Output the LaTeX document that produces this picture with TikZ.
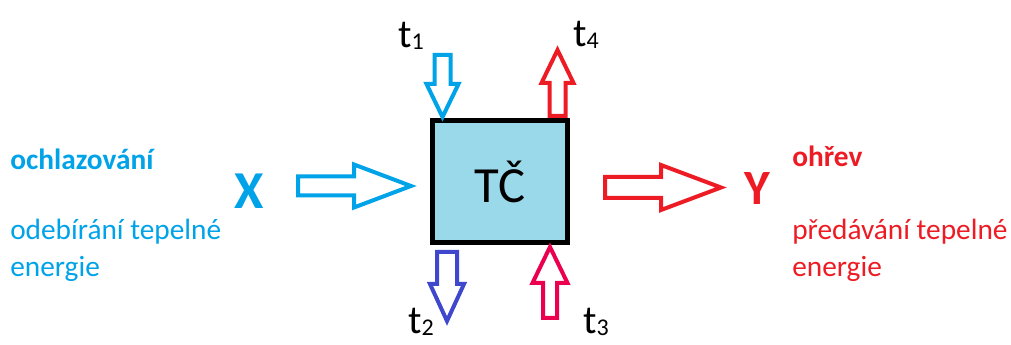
\documentclass[tikz,border=0pt]{standalone}
\usepackage{fontspec}
\setmainfont{Carlito}
\usetikzlibrary{positioning}
\definecolor{modra}{HTML}{00A2E8}
\definecolor{cervena}{HTML}{ED1C24}
\definecolor{indigo}{HTML}{3F48CC}
\definecolor{ruzova}{HTML}{EB0050}
\definecolor{svetla}{HTML}{99D9EA}
\newcommand{\tind}[1]{t{\fontsize{18}{18}\selectfont\raisebox{-1pt}{#1}}}
\tikzset{
  blok/.style={draw=black,fill=svetla,line width=3.75pt,minimum width=101pt,minimum height=91.5pt,inner sep=0pt,font=\fontsize{38}{40}\selectfont},
  sipka/.style={line width=3pt,line join=miter},
  pics/dutasipka/.style n args={4}{code={
    \draw[pic actions] (0,-#2) -- ({#1-#4},-#2) -- ({#1-#4},-#3) -- (#1,0)
      -- ({#1-#4},#3) -- ({#1-#4},#2) -- (0,#2) -- cycle;
  }},
  teplota/.style={anchor=base west,inner sep=0pt,font=\fontsize{30}{32}\selectfont},
  velka/.style={inner sep=0pt,font=\bfseries\fontsize{40}{42}\selectfont},
  popis/.style={anchor=base west,inner sep=0pt,font=\fontsize{22}{26}\selectfont},
}
\begin{document}
\begin{tikzpicture}[x=0.75pt,y=-0.75pt]
  \useasboundingbox (0,0) rectangle (1011,345);
  % tepelne cerpadlo
  \node[blok] (tc) at (500,182) {TČ};
  % vstup a vystup
  \pic[sipka,draw=modra] at (298,186) {dutasipka={113}{9.5}{21.5}{57}};
  \pic[sipka,draw=cervena] at (605,187.5) {dutasipka={116}{10.5}{22.5}{60}};
  % teploty
  \pic[sipka,draw=modra,rotate=-90] at (442.5,55) {dutasipka={62}{8}{16}{33}};
  \pic[sipka,draw=cervena,rotate=90] at (557.5,116) {dutasipka={66}{8}{16}{33}};
  \pic[sipka,draw=indigo,rotate=-90] at (447,252) {dutasipka={69}{10}{17}{37}};
  \pic[sipka,draw=ruzova,rotate=90] at (550,318) {dutasipka={71}{7}{17.5}{36}};
  \node[teplota] (t1) at (398,48) {\tind{1}};
  \node[teplota] (t4) at (573,47) {\tind{4}};
  \node[teplota] (t2) at (408,334) {\tind{2}};
  \node[teplota] (t3) at (583,334) {\tind{3}};
  % popisky
  \node[velka,text=modra] (x) at (249,191) {X};
  \node[velka,text=cervena,font=\bfseries\fontsize{37}{40}\selectfont] (y) at (757,189) {Y};
  \node[popis,text=modra,font=\bfseries\fontsize{22}{26}\selectfont] (ochl) at (10,170) {ochlazování};
  \node[popis,text=modra] (odeb) at (10,240) {odebírání tepelné};
  \node[popis,text=modra] (odebE) at (10,277) {energie};
  \node[popis,text=cervena,font=\bfseries\fontsize{22}{26}\selectfont] (ohrev) at (792,167) {ohřev};
  \node[popis,text=cervena] (pred) at (792,240) {předávání tepelné};
  \node[popis,text=cervena] (predE) at (792,277) {energie};
\end{tikzpicture}
\end{document}
